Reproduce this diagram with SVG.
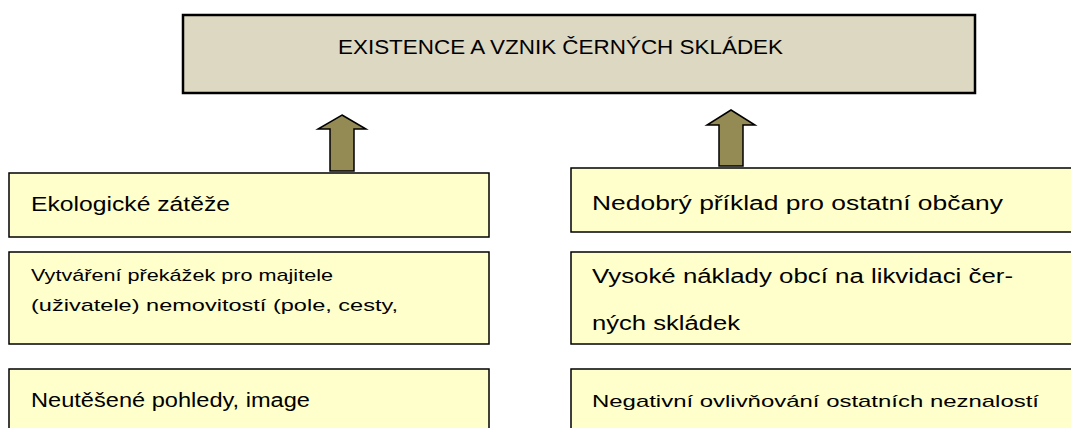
<svg xmlns="http://www.w3.org/2000/svg" width="1071" height="428" viewBox="0 0 1071 428">
<style>
.title{fill:#DDD8C2;stroke:#000;stroke-width:2.5}
.box{fill:#FFFFCC;stroke:#000;stroke-width:1.5}
.arrow{fill:#948A54;stroke:#000;stroke-width:1.5;stroke-linejoin:miter}
text{font-family:"Liberation Sans","Noto Sans",sans-serif;fill:#000}
.big{font-size:20px}
.small{font-size:17px}
</style>
<rect width="1071" height="428" fill="#fff"/>
<g id="title">
<rect class="title" x="183" y="15" width="792" height="78"/>
<text class="big" x="338" y="54" textLength="445" lengthAdjust="spacingAndGlyphs">EXISTENCE A VZNIK ČERNÝCH SKLÁDEK</text>
</g>
<g id="connectors">
<path class="arrow" d="M342,115 L366,129 L354,129 L354,171 L330,171 L330,129 L318,129 Z"/>
<path class="arrow" d="M731,110 L755,125 L743,125 L743,166 L719,166 L719,125 L707,125 Z"/>
</g>
<g id="left1">
<rect class="box" x="9" y="173" width="480" height="64"/>
<text class="big" x="31" y="211" textLength="199" lengthAdjust="spacingAndGlyphs">Ekologické zátěže</text>
</g>
<g id="left2">
<rect class="box" x="9" y="252" width="480" height="92"/>
<text class="small" x="31" y="281" textLength="302" lengthAdjust="spacingAndGlyphs">Vytváření překážek pro majitele</text>
<text class="small" x="31" y="311" textLength="367" lengthAdjust="spacingAndGlyphs">(uživatele) nemovitostí (pole, cesty,</text>
</g>
<g id="left3">
<rect class="box" x="9" y="369" width="480" height="80"/>
<text class="big" x="31" y="407" textLength="279" lengthAdjust="spacingAndGlyphs">Neutěšené pohledy, image</text>
</g>
<g id="right1">
<rect class="box" x="571" y="168" width="520" height="64"/>
<text class="big" x="592" y="210" textLength="411" lengthAdjust="spacingAndGlyphs">Nedobrý příklad pro ostatní občany</text>
</g>
<g id="right2">
<rect class="box" x="571" y="252" width="520" height="92"/>
<text class="big" x="592" y="283" textLength="421" lengthAdjust="spacingAndGlyphs">Vysoké náklady obcí na likvidaci čer-</text>
<text class="big" x="592" y="330" textLength="148" lengthAdjust="spacingAndGlyphs">ných skládek</text>
</g>
<g id="right3">
<rect class="box" x="571" y="369" width="520" height="80"/>
<text class="small" x="592" y="407" textLength="447" lengthAdjust="spacingAndGlyphs">Negativní ovlivňování ostatních neznalostí</text>
</g>
</svg>
